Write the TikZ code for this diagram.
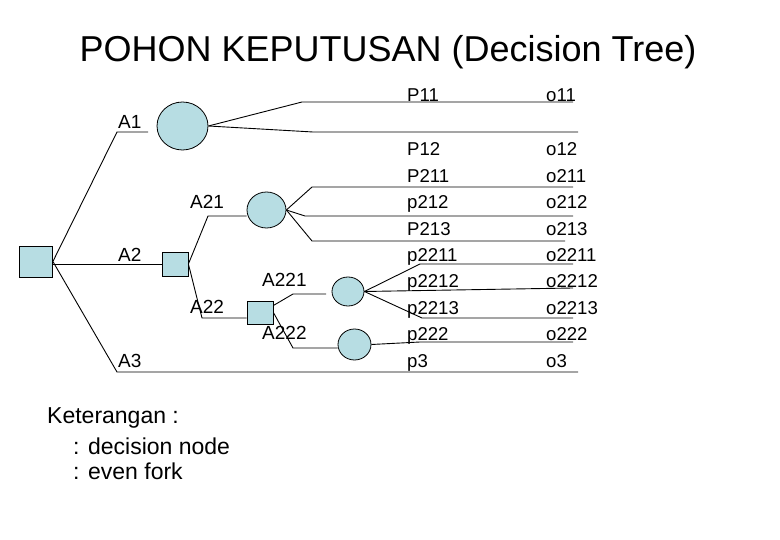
\documentclass[tikz,border=0pt]{standalone}
\usepackage{fontspec}
\setmainfont{Liberation Sans}
\usetikzlibrary{shapes.geometric,calc}
\definecolor{nodefill}{RGB}{183,221,227}
\begin{document}
\begin{tikzpicture}[x=1pt,y=-1pt,
  wire/.style={draw=black,line width=0.9pt},
  decnode/.style={draw=black,fill=nodefill,line width=0.8pt,rectangle,inner sep=0pt},
  chnode/.style={draw=black,fill=nodefill,line width=0.8pt,ellipse,inner sep=0pt},
  albl/.style={anchor=base west,inner sep=0pt,font=\fontsize{19}{22}\selectfont},
  rlbl/.style={anchor=base west,inner sep=0pt,font=\fontsize{18.6}{21}\selectfont},
  legend/.style={anchor=base west,inner sep=0pt,font=\fontsize{23}{27}\selectfont},
  titlestyle/.style={anchor=base,inner sep=0pt,font=\fontsize{36}{40}\selectfont}]
\useasboundingbox (0,0) rectangle (780,540);

% title
\node[titlestyle] (title) at (388,62) {POHON KEPUTUSAN (Decision Tree)};

% nodes
\node[decnode,minimum width=33pt,minimum height=31pt] (root) at (36,261.5) {};
\node[decnode,minimum width=26pt,minimum height=24pt] (A2n) at (175,264) {};
\node[decnode,minimum width=26pt,minimum height=23pt] (A22n) at (260,312.5) {};
\node[chnode,minimum width=51pt,minimum height=48pt] (c1) at (182.5,126) {};
\node[chnode,minimum width=39pt,minimum height=36pt] (c21) at (266.5,210) {};
\node[chnode,minimum width=32pt,minimum height=29pt] (c221) at (348,291.5) {};
\node[chnode,minimum width=33pt,minimum height=31pt] (c222) at (354.5,344.5) {};

% coordinates
\coordinate (kA1) at (117,132);
\coordinate (eA1) at (148,132);
\coordinate (kA3) at (117,372);
\coordinate (eA3) at (578,372);
\coordinate (kA21) at (208,216);
\coordinate (kA22) at (202,318);
\coordinate (kA221) at (293,294);
\coordinate (eA221) at (326,294);
\coordinate (kA222) at (293,348);
\coordinate (k11) at (302,102);
\coordinate (e11) at (573,102);
\coordinate (k12) at (313,132);
\coordinate (e12) at (578,132);
\coordinate (k211) at (312,187);
\coordinate (e211) at (573,187);
\coordinate (k212) at (305,216);
\coordinate (e212) at (573,216);
\coordinate (k213) at (312,241);
\coordinate (e213) at (565,241);
\coordinate (k2211) at (420,264);
\coordinate (e2211) at (573,264);
\coordinate (e2212) at (573,288);
\coordinate (k2213) at (422,318);
\coordinate (e2213) at (573,318);
\coordinate (k222) at (420,342);
\coordinate (e222) at (573,342);

% connectors
\draw[wire] (root.east) -- (kA1) -- (eA1);
\draw[wire] (root.east |- A2n.west) -- (A2n.west);
\draw[wire] (root.east) -- (kA3) -- (eA3);
\draw[wire] (A2n.east) -- (kA21) -- (kA21 -| c21.west);
\draw[wire] (A2n.east) -- (kA22) -- (kA22 -| A22n.west);
\draw[wire] ($(A22n.east)+(0,-7)$) -- (kA221) -- (eA221);
\draw[wire] (A22n.east) -- (kA222) -- (kA222 -| c222.west);
\draw[wire] (c1.east) -- (k11) -- (e11);
\draw[wire] (c1.east) -- (k12) -- (e12);
\draw[wire] (c21.east) -- (k211) -- (e211);
\draw[wire] (c21.east) -- (k212) -- (e212);
\draw[wire] (c21.east) -- (k213) -- (e213);
\draw[wire] (c221.east) -- (k2211) -- (e2211);
\draw[wire] (c221.east) -- (e2212);
\draw[wire] (c221.east) -- (k2213) -- (e2213);
\draw[wire] (c222.east) -- (k222) -- (e222);

% branch labels
\node[albl] (lA1) at (118,129) {A1};
\node[albl] (lA2) at (118,262) {A2};
\node[albl] (lA3) at (118,367) {A3};
\node[albl] (lA21) at (190,209) {A21};
\node[albl] (lA22) at (190,314) {A22};
\node[albl] (lA221) at (262,287) {A221};
\node[albl] (lA222) at (262,340) {A222};

% probability and outcome columns
\node[rlbl] (p11) at (407,101.5) {P11};
\node[rlbl] (p12) at (407,156) {P12};
\node[rlbl] (p211) at (407,182.4) {P211};
\node[rlbl] (p212) at (407,208.8) {p212};
\node[rlbl] (p213) at (407,235.2) {P213};
\node[rlbl] (p2211) at (407,261.6) {p2211};
\node[rlbl] (p2212) at (407,288) {p2212};
\node[rlbl] (p2213) at (407,314.4) {p2213};
\node[rlbl] (p222) at (407,340.8) {p222};
\node[rlbl] (p3) at (407,367.2) {p3};

\node[rlbl] (o11) at (546,101.5) {o11};
\node[rlbl] (o12) at (546,156) {o12};
\node[rlbl] (o211) at (546,182.4) {o211};
\node[rlbl] (o212) at (546,208.8) {o212};
\node[rlbl] (o213) at (546,235.2) {o213};
\node[rlbl] (o2211) at (546,261.6) {o2211};
\node[rlbl] (o2212) at (546,288) {o2212};
\node[rlbl] (o2213) at (546,314.4) {o2213};
\node[rlbl] (o222) at (546,340.8) {o222};
\node[rlbl] (o3) at (546,367.2) {o3};

% legend
\node[legend] (ket) at (47,424) {Keterangan :};
\node[legend] (ketd) at (73,454) {: decision node};
\node[legend] (kete) at (73,479) {: even fork};
\end{tikzpicture}
\end{document}
